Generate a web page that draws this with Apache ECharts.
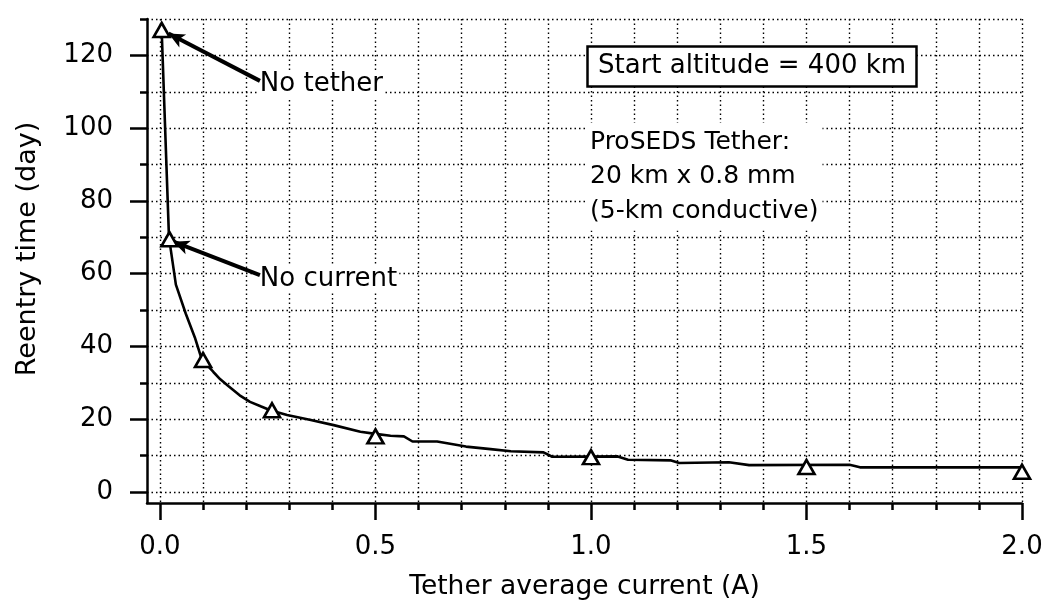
<!DOCTYPE html>
<html>
<head>
<meta charset="utf-8">
<title>Reentry time vs tether current</title>
<script src="https://cdn.jsdelivr.net/npm/echarts@6/dist/echarts.min.js"></script>
<style>
html, body { margin: 0; padding: 0; background: #fff; }
#chart { width: 1049px; height: 607px; }
</style>
</head>
<body>
<div id="chart"></div>
<script>
// simulated curve
var curveX = [0.004, 0.021, 0.037, 0.06, 0.081, 0.097, 0.11, 0.124, 0.14, 0.16, 0.185, 0.209, 0.235, 0.256, 0.295, 0.35, 0.403, 0.465, 0.5, 0.535, 0.566, 0.586, 0.643, 0.71, 0.767, 0.814, 0.89, 0.91, 1.062, 1.086, 1.186, 1.205, 1.32, 1.367, 1.6, 1.624, 2.0];
var curveY = [127, 70, 57, 49, 42.5, 36.5, 34.8, 33, 31, 29, 26.6, 24.8, 23.5, 22.5, 21.2, 19.8, 18.4, 16.6, 16, 15.5, 15.3, 13.9, 13.9, 12.5, 11.8, 11.2, 10.9, 9.7, 9.8, 8.9, 8.7, 8.0, 8.2, 7.4, 7.5, 6.8, 6.8];
// triangle markers
var pointX = [0.004, 0.022, 0.1, 0.26, 0.5, 1.0, 1.5, 2.0];
var pointY = [127, 69.5, 36.3, 22.5, 15.3, 9.6, 6.9, 5.6];

// ticks
var xMinorTicks = [0, 0.1, 0.2, 0.3, 0.4, 0.5, 0.6, 0.7, 0.8, 0.9, 1.0, 1.1, 1.2, 1.3, 1.4, 1.5, 1.6, 1.7, 1.8, 1.9, 2.0];
var xMajorTicks = [0, 0.5, 1.0, 1.5, 2.0];
var yMinorTicks = [0, 10, 20, 30, 40, 50, 60, 70, 80, 90, 100, 110, 120, 130];
var yMajorTicks = [0, 20, 40, 60, 80, 100, 120];

// notes with arrows
var noteText = ['No tether', 'No current'];
var noteX = [0.226, 0.226];
var noteY = [112, 58.6];
var arrowFrom = [[0.232, 113], [0.232, 59.6]];
var arrowTo = [[0.02, 126], [0.031, 68.8]];

var FONT = 'DejaVu Sans';
var dotted = { color: '#000', width: 1.4, type: [1.5, 3] };
var axisInk = { color: '#000', width: 2.5 };

function zip(a, b) {
    return a.map(function (v, i) { return [v, b[i]]; });
}

var chart = echarts.init(document.getElementById('chart'));

var option = {
    animation: false,
    backgroundColor: '#fff',
    title: [{
        text: 'Start altitude = 400 km',
        left: 587,
        top: 46,
        padding: [5, 11],
        borderColor: '#000',
        borderWidth: 2.5,
        backgroundColor: '#fff',
        textStyle: { fontFamily: FONT, fontSize: 26, fontWeight: 'normal', color: '#000', lineHeight: 31 }
    }, {
        text: 'ProSEDS Tether:\n20 km x 0.8 mm\n(5-km conductive)',
        left: 586,
        top: 123,
        padding: [2, 4],
        backgroundColor: '#fff',
        textStyle: { fontFamily: FONT, fontSize: 25, fontWeight: 'normal', color: '#000', lineHeight: 34.5 }
    }],
    grid: { left: 147, right: 27, top: 19, bottom: 104 },
    xAxis: [{
        type: 'value',
        min: -0.03,
        max: 2.0,
        position: 'bottom',
        axisLine: { onZero: false, lineStyle: axisInk },
        axisTick: { customValues: xMinorTicks, length: 7, lineStyle: axisInk },
        axisLabel: { show: false },
        splitLine: { show: true, lineStyle: dotted }
    }, {
        type: 'value',
        min: -0.03,
        max: 2.0,
        position: 'bottom',
        axisLine: { show: false, onZero: false },
        axisTick: { customValues: xMajorTicks, length: 17, lineStyle: axisInk },
        axisLabel: {
            customValues: xMajorTicks,
            margin: 31,
            fontFamily: FONT,
            fontSize: 26,
            color: '#000',
            formatter: function (v) { return v.toFixed(1); }
        },
        splitLine: { show: false },
        name: 'Tether average current (A)',
        nameLocation: 'middle',
        nameGap: 71,
        nameTextStyle: { fontFamily: FONT, fontSize: 26.5, color: '#000' }
    }],
    yAxis: [{
        type: 'value',
        min: -3,
        max: 130,
        position: 'left',
        axisLine: { onZero: false, lineStyle: axisInk },
        axisTick: { customValues: yMinorTicks, length: 7, lineStyle: axisInk },
        axisLabel: { show: false },
        splitLine: { show: true, lineStyle: dotted }
    }, {
        type: 'value',
        min: -3,
        max: 130,
        position: 'left',
        axisLine: { show: false, onZero: false },
        axisTick: { customValues: yMajorTicks, length: 17, lineStyle: axisInk },
        axisLabel: {
            customValues: yMajorTicks,
            margin: 34,
            fontFamily: FONT,
            fontSize: 26,
            color: '#000'
        },
        splitLine: { show: false },
        name: 'Reentry time (day)',
        nameLocation: 'middle',
        nameGap: 106,
        nameRotate: 90,
        nameTextStyle: { fontFamily: FONT, fontSize: 27, color: '#000', padding: [0, 0, 0, 24] }
    }],
    series: [{
        type: 'line',
        data: zip(curveX, curveY),
        showSymbol: false,
        lineStyle: { color: '#000', width: 2.6, opacity: 1 },
        z: 3,
        silent: true
    }, {
        type: 'scatter',
        data: zip(pointX, pointY),
        symbol: 'triangle',
        symbolSize: [16, 14],
        itemStyle: { color: '#fff', borderColor: '#000', borderWidth: 2.6, opacity: 1 },
        z: 5,
        silent: true
    }, {
        type: 'scatter',
        data: noteX.map(function (x, i) { return [x, noteY[i], noteText[i]]; }),
        symbolSize: 1,
        itemStyle: { color: 'rgba(0,0,0,0)', opacity: 1 },
        label: {
            show: true,
            position: 'right',
            distance: 0,
            formatter: function (p) { return p.value[2]; },
            fontFamily: FONT,
            fontSize: 26,
            color: '#000',
            opacity: 1,
            backgroundColor: '#fff',
            padding: [0, 2]
        },
        markLine: {
            silent: true,
            symbol: ['none', 'arrow'],
            symbolSize: [11, 16],
            label: { show: false },
            lineStyle: { color: '#000', width: 4, type: 'solid', opacity: 1 },
            data: arrowFrom.map(function (f, i) {
                return [{ coord: f }, { coord: arrowTo[i] }];
            })
        },
        z: 4,
        silent: true
    }]
};

chart.setOption(option);
</script>
</body>
</html>
